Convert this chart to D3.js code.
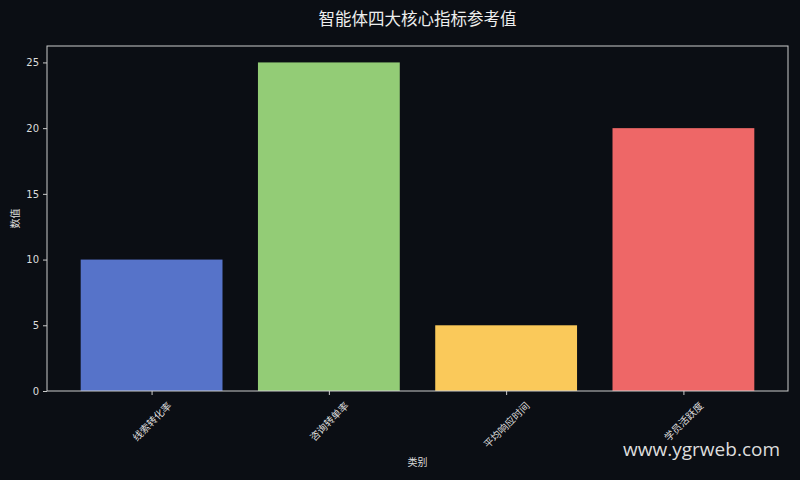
<!DOCTYPE html>
<html>
<head>
<meta charset="utf-8">
<script src="https://cdn.jsdelivr.net/npm/d3@7"></script>
<style>
  html, body { margin: 0; padding: 0; background: #0b0e14; }
  svg { display: block; }
</style>
</head>
<body>
<div id="chart"></div>
<script>
var categories = ["线索转化率", "咨询转单率", "平均响应时间", "学员活跃度"];
var values = [10, 25, 5, 20];
var barColors = ["#5673c9", "#93cc76", "#fac95a", "#ee6767"];
var yTicks = [0, 5, 10, 15, 20, 25];

var chart = {};

chart.init = function() {
    var W = 800, H = 480;
    var margin = {top: 46, right: 12, bottom: 89, left: 47};
    var width = W - margin.left - margin.right;
    var height = H - margin.top - margin.bottom;
    var font = "'DejaVu Sans', 'Noto Sans CJK SC', sans-serif";

    var svg = d3.select("#chart")
        .append("svg")
        .attr("width", W)
        .attr("height", H)
        .style("background", "#0b0e14");

    var g = svg.append("g")
        .attr("transform", "translate(" + margin.left + "," + margin.top + ")");

    // matplotlib style: bars at 0..n-1, width 0.8, 5% margins
    var n = categories.length;
    var lo = -0.4, hi = n - 1 + 0.4, pad = (hi - lo) * 0.05;
    var x = d3.scaleLinear().domain([lo - pad, hi + pad]).range([0, width]);
    var y = d3.scaleLinear().domain([0, d3.max(values) * 1.05]).range([height, 0]);

    // bars
    g.selectAll("rect.bar")
        .data(values)
        .enter()
        .append("rect")
        .attr("class", "bar")
        .attr("x", function(d, i) { return x(i - 0.4); })
        .attr("width", function(d, i) { return x(i + 0.4) - x(i - 0.4); })
        .attr("y", function(d) { return y(d); })
        .attr("height", function(d) { return height - y(d); })
        .attr("fill", function(d, i) { return barColors[i]; });

    // y axis
    var yAxis = g.append("g")
        .call(d3.axisLeft(y).tickValues(yTicks).tickSize(4).tickPadding(4).tickFormat(d3.format("d")));
    yAxis.select(".domain").remove();
    yAxis.selectAll("line").attr("stroke", "#cccccc");
    yAxis.selectAll("text").attr("fill", "#dddddd").style("font-size", "10px").style("font-family", font);

    // x axis, labels rotated 45 and centred on the tick (like ha='center')
    var xAxis = g.append("g")
        .attr("transform", "translate(0," + height + ")")
        .call(d3.axisBottom(x).tickValues(d3.range(n)).tickSize(4).tickFormat(function(d) { return categories[d]; }));
    xAxis.select(".domain").remove();
    xAxis.selectAll("line").attr("stroke", "#cccccc");
    xAxis.selectAll("text")
        .attr("fill", "#dddddd")
        .style("font-size", "10px")
        .style("font-family", font)
        .attr("text-anchor", "middle")
        .attr("x", 0)
        .attr("y", 0)
        .attr("dy", "0.35em")
        .attr("transform", function() {
            var L = this.getComputedTextLength();
            var half = (L + 11) * 0.7071 / 2;
            return "translate(0," + (9 + half) + ") rotate(-45)";
        });

    // frame
    g.append("rect")
        .attr("x", 0).attr("y", 0)
        .attr("width", width).attr("height", height)
        .attr("fill", "none")
        .attr("stroke", "#cccccc")
        .attr("stroke-width", 1);

    // title
    svg.append("text")
        .attr("x", margin.left + width / 2)
        .attr("y", 25)
        .attr("text-anchor", "middle")
        .attr("fill", "#eeeeee")
        .style("font-size", "16.5px")
        .style("font-family", font)
        .text("智能体四大核心指标参考值");

    // axis labels
    svg.append("text")
        .attr("transform", "translate(19," + (margin.top + height / 2) + ") rotate(-90)")
        .attr("text-anchor", "middle")
        .attr("fill", "#dddddd")
        .style("font-size", "10px")
        .style("font-family", font)
        .text("数值");

    svg.append("text")
        .attr("x", margin.left + width / 2)
        .attr("y", 466)
        .attr("text-anchor", "middle")
        .attr("fill", "#dddddd")
        .style("font-size", "10px")
        .style("font-family", font)
        .text("类别");

    // watermark
    svg.append("text")
        .attr("x", 780)
        .attr("y", 456)
        .attr("text-anchor", "end")
        .attr("fill", "#dddddd")
        .style("font-size", "19px")
        .style("font-family", "'Open Sans', 'Noto Sans', sans-serif")
        .text("www.ygrweb.com");
};

chart.init();
</script>
</body>
</html>
